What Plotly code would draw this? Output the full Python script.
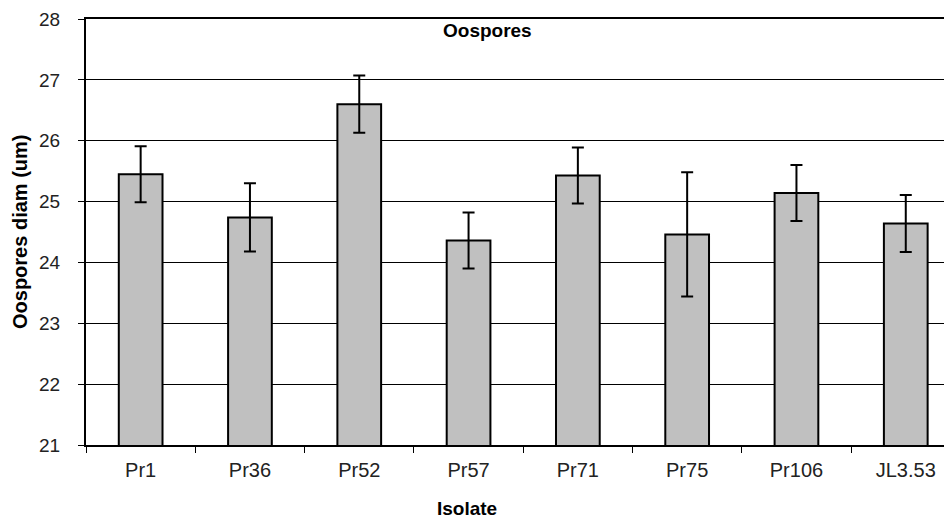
import plotly.graph_objects as go

isolates = ["Pr1", "Pr36", "Pr52", "Pr57", "Pr71", "Pr75", "Pr106", "JL3.53"]
diam_mean = [25.45, 24.74, 26.60, 24.36, 25.43, 24.46, 25.14, 24.64]
diam_err = [0.46, 0.56, 0.47, 0.46, 0.46, 1.02, 0.46, 0.47]
y_ticks = [21, 22, 23, 24, 25, 26, 27, 28]

FONT = "Liberation Sans, Arial, sans-serif"

fig = go.Figure()
fig.add_trace(go.Bar(
    x=isolates,
    y=diam_mean,
    marker=dict(color="#C0C0C0", line=dict(color="black", width=2)),
    error_y=dict(type="data", array=diam_err, visible=True,
                 color="black", thickness=2, width=6),
    width=0.4,
))

# page body has an 8px margin, so the figure is sized/offset to compensate
fig.update_layout(
    width=944, height=511,
    margin=dict(l=78, r=0, t=11, b=74),
    paper_bgcolor="white", plot_bgcolor="white",
    showlegend=False,
    font=dict(family=FONT, size=18, color="black"),
    xaxis=dict(
        range=[-0.5, 7.423],
        showline=True, linecolor="black", linewidth=2, mirror=True,
        ticks="outside", tickson="boundaries", ticklen=6, tickwidth=1,
        tickcolor="black", showgrid=False,
        tickfont=dict(family=FONT, size=20, color="#222"),
        ticklabelstandoff=6,
    ),
    yaxis=dict(
        range=[21, 28],
        tickvals=y_ticks,
        showline=True, linecolor="black", linewidth=2,
        ticks="outside", ticklen=6, tickwidth=1, tickcolor="black",
        showgrid=True, gridcolor="black", gridwidth=1,
        zeroline=False,
        tickfont=dict(family=FONT, size=19, color="#222"),
        ticklabelstandoff=14,
    ),
    annotations=[
        dict(text="<b>Oospores</b>", xref="paper", yref="paper",
             x=0.4636, y=0.974, showarrow=False, xanchor="center", yanchor="middle",
             font=dict(family=FONT, size=19, color="black")),
        dict(text="<b>Isolate</b>", xref="paper", yref="paper",
             x=0.44, y=-0.148, showarrow=False, xanchor="center", yanchor="middle",
             font=dict(family=FONT, size=19, color="black")),
        dict(text="<b>Oospores diam (um)</b>", xref="paper", yref="paper",
             x=0, xshift=-66, y=0.5, showarrow=False, xanchor="center", yanchor="middle",
             textangle=-90,
             font=dict(family=FONT, size=20, color="black")),
    ],
)

fig.write_html("out.html")
